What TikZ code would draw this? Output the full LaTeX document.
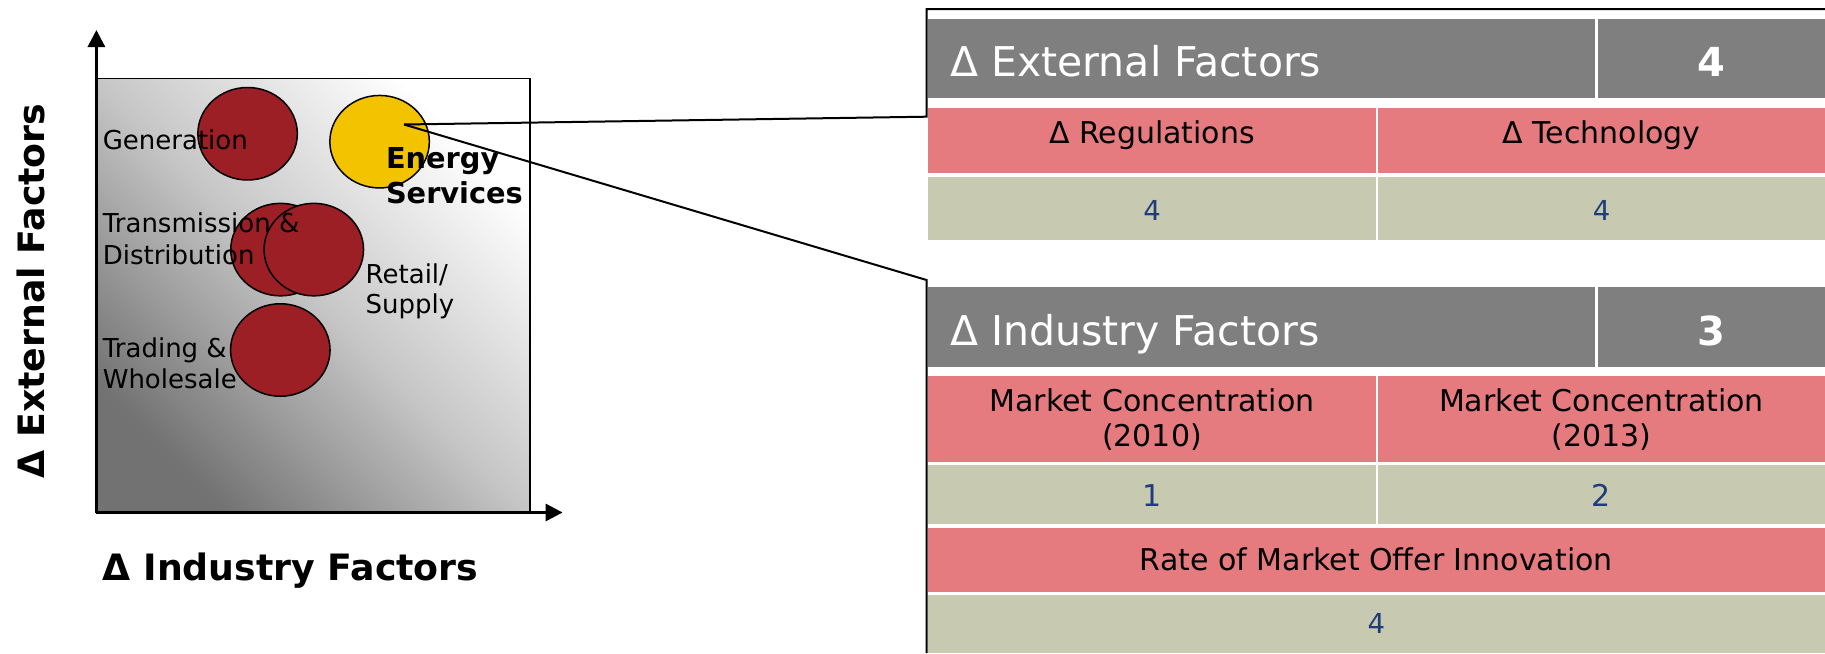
\documentclass[tikz,border=0pt]{standalone}
\usepackage{fontspec}
\setmainfont{DejaVu Sans}
\usetikzlibrary{shapes.geometric,arrows.meta}
\definecolor{hdrgray}{HTML}{7F7F7F}
\definecolor{pinkc}{HTML}{E57B7F}
\definecolor{tanc}{HTML}{C8C9B1}
\definecolor{bluet}{HTML}{1F3D7A}
\definecolor{darkred}{HTML}{9B1F24}
\definecolor{yellowc}{HTML}{F4C300}
\definecolor{plotdark}{HTML}{727272}
\definecolor{plotmid}{HTML}{C6C6C6}
\begin{document}
\begin{tikzpicture}[x=1pt,y=-1pt,
  blob/.style={ellipse, draw=black, line width=1.5pt, fill=darkred, minimum width=99.5pt, minimum height=92.5pt, inner sep=0pt, outer sep=0pt},
  lbl/.style={anchor=base west, inner sep=0pt, font=\fontsize{26}{31}\selectfont},
  lblb/.style={anchor=base west, inner sep=0pt, font=\fontsize{28.8}{34}\selectfont\bfseries},
  axl/.style={inner sep=0pt, font=\fontsize{36.3}{42}\selectfont\bfseries},
  axisline/.style={line width=3pt, -{Triangle[length=17pt,width=17pt]}},
  conn/.style={line width=2pt, line join=miter},
  hdrtxt/.style={inner sep=0pt, text=white, font=\fontsize{41}{48}\selectfont},
  hdrnum/.style={anchor=base, inner sep=0pt, text=white, font=\fontsize{40}{48}\selectfont\bfseries},
  celltxt/.style={anchor=base, inner sep=0pt, text=black, font=\fontsize{30}{35}\selectfont},
  numtxt/.style={anchor=base, inner sep=0pt, text=bluet, font=\fontsize{27.5}{33}\selectfont},
  bignum/.style={anchor=base, inner sep=0pt, text=bluet, font=\fontsize{30}{36}\selectfont}
]
\useasboundingbox (0,0) rectangle (1825,653);

% plot area
\shade[top color=white, bottom color=plotdark, middle color=plotmid, shading angle=-45] (96.4,78.3) rectangle (530,512.5);
\draw[line width=1.5pt] (96.4,78.3) rectangle (530,512.5);

% bubbles
\node[blob] (gen) at (247.6,133.75) {};
\node[blob, fill=yellowc] (es) at (379.6,141.7) {};
\node[blob] (td1) at (280.5,249.6) {};
\node[blob] (td2) at (313.8,249.6) {};
\node[blob] (tw) at (280.3,350) {};

% bubble labels
\node[lbl] (genl) at (102.6,149) {Generation};
\node[lbl] (tdla) at (102.6,232) {Transmission \&};
\node[lbl] (tdlb) at (102.6,264) {Distribution};
\node[lbl] (rsla) at (365.5,283.3) {Retail/};
\node[lbl] (rslb) at (365.5,313.3) {Supply};
\node[lbl] (twla) at (102.6,357.5) {Trading \&};
\node[lbl] (twlb) at (102.6,388) {Wholesale};
\node[lblb] (esla) at (385.8,168.75) {Energy};
\node[lblb] (eslb) at (385.8,203) {Services};

% axes
\coordinate (o) at (96.4,512.5);
\coordinate (ytip) at (96.4,30);
\coordinate (xtip) at (562.6,512.5);
\draw[axisline] (o) -- (ytip);
\draw[axisline] (o) -- (xtip);
\node[axl, rotate=90, anchor=base] (ylab) at (44,291) {Δ External Factors};
\node[axl, anchor=base west] (xlab) at (102.6,580) {Δ Industry Factors};

% table 1 cells
\fill[hdrgray] (927.7,19) rectangle (1595,98.3);
\fill[hdrgray] (1598,19) rectangle (1825,98.3);
\fill[pinkc] (927.7,107.7) rectangle (1375.5,173.3);
\fill[pinkc] (1378,107.7) rectangle (1825,173.3);
\fill[tanc] (927.7,176.7) rectangle (1375.5,240);
\fill[tanc] (1378,176.7) rectangle (1825,240);

\node[hdrtxt, anchor=base west] (eft) at (950,76) {Δ External Factors};
\node[hdrnum] (efn) at (1711.5,76) {4};
\node[celltxt] (reg) at (1152,143.3) {Δ Regulations};
\node[celltxt] (tec) at (1601.5,143.3) {Δ Technology};
\node[numtxt] (regn) at (1152,220) {4};
\node[numtxt] (tecn) at (1601.5,220) {4};

% table 2 cells
\fill[hdrgray] (927.7,286.7) rectangle (1595,366.7);
\fill[hdrgray] (1598,286.7) rectangle (1825,366.7);
\fill[pinkc] (927.7,376) rectangle (1375.5,461.7);
\fill[pinkc] (1378,376) rectangle (1825,461.7);
\fill[tanc] (927.7,465) rectangle (1375.5,524.3);
\fill[tanc] (1378,465) rectangle (1825,524.3);
\fill[pinkc] (927.7,527.7) rectangle (1825,591.7);
\fill[tanc] (927.7,595) rectangle (1825,653);

\node[hdrtxt, anchor=base west] (ift) at (950,345) {Δ Industry Factors};
\node[hdrnum] (ifn) at (1711.5,345) {3};
\node[celltxt] (mca) at (1152,411.7) {Market Concentration};
\node[celltxt] (mcb) at (1152,446.5) {(2010)};
\node[celltxt] (mcc) at (1601.5,411.7) {Market Concentration};
\node[celltxt] (mcd) at (1601.5,446.5) {(2013)};
\node[bignum] (mcan) at (1152,506.7) {1};
\node[bignum] (mccn) at (1601.5,506.7) {2};
\node[celltxt] (rate) at (1376.4,570) {Rate of Market Offer Innovation};
\node[numtxt] (raten) at (1376.4,633.3) {4};

% connectors / callout frames
\coordinate (c0) at (404,124.5);
\coordinate (ka) at (926.5,116.7);
\coordinate (kb) at (926.5,9);
\coordinate (kc) at (1825,9);
\coordinate (kd) at (926.5,280);
\coordinate (ke) at (926.5,653);
\draw[conn] (c0) -- (ka) -- (kb) -- (kc);
\draw[conn] (c0) -- (kd) -- (ke);
\end{tikzpicture}
\end{document}
